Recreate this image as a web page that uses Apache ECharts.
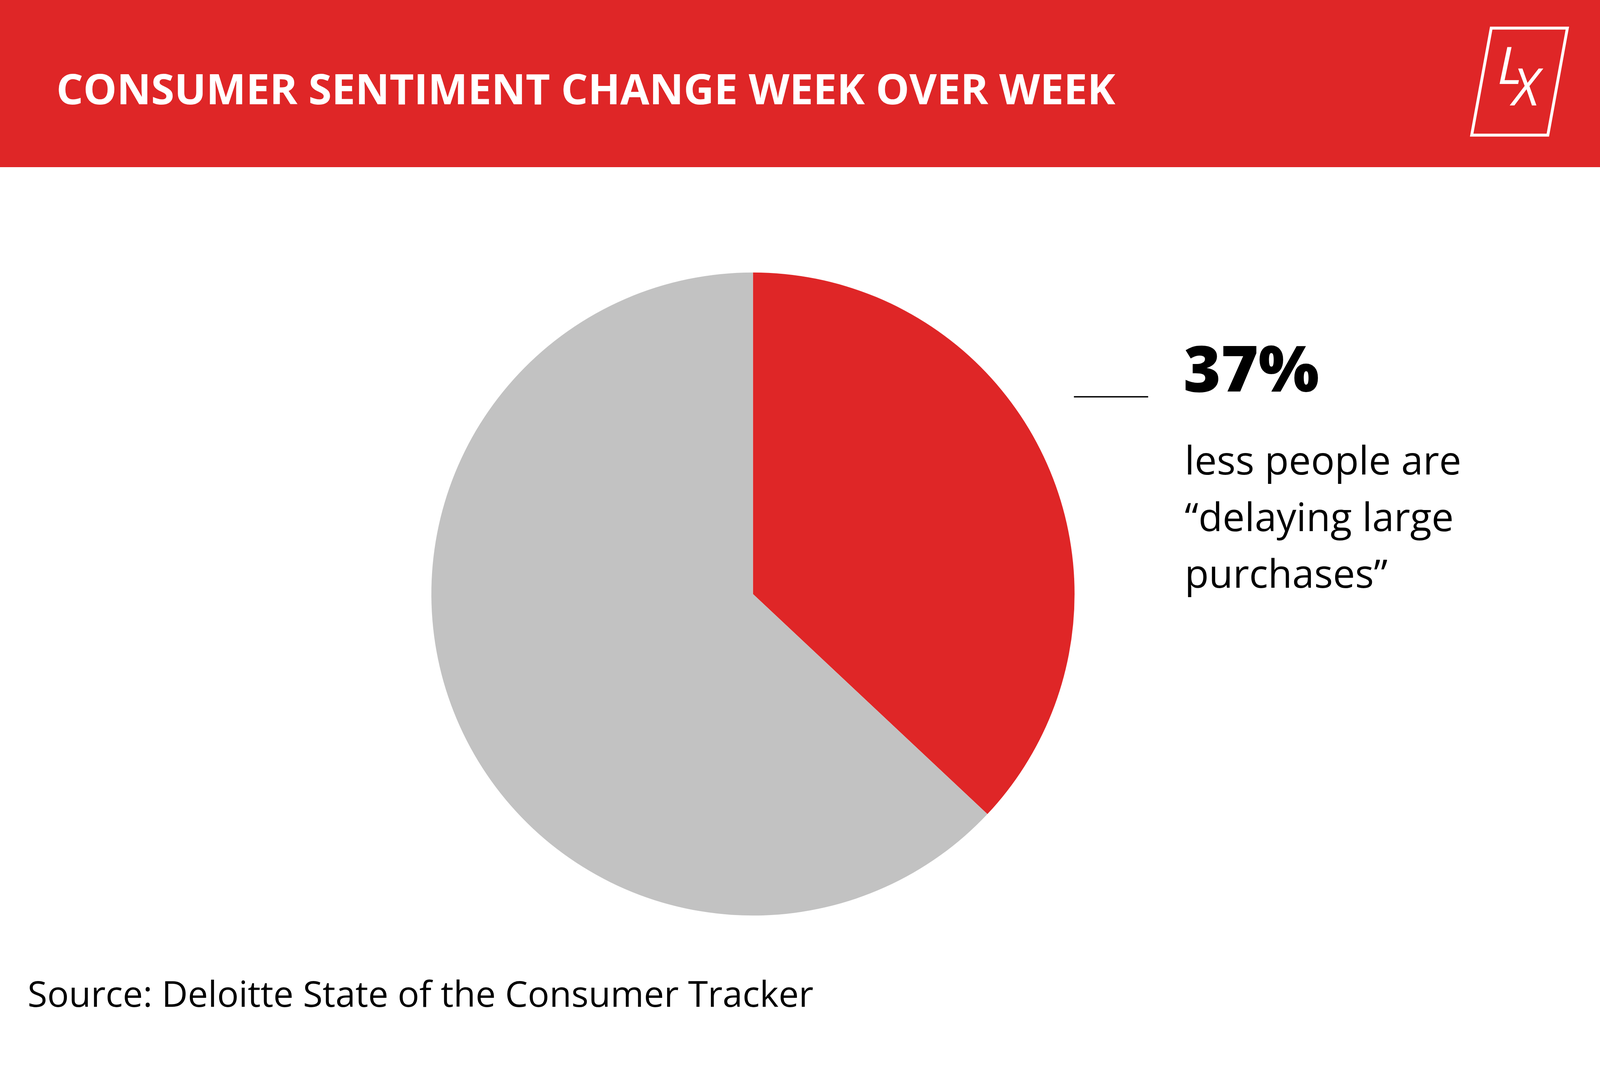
<!DOCTYPE html>
<html lang="en" style="height: 100%">
<head>
  <meta charset="UTF-8" />
  <title>Consumer sentiment change week over week</title>
  <script src="https://cdn.jsdelivr.net/npm/echarts@6/dist/echarts.min.js"></script>
</head>
<body style="height: 100%; margin: 0; background: #fff">
  <div id="container" style="width: 100%; height: 100%"></div>
  <script type="text/javascript">
    // data
    var sliceNames = ["Less people delaying large purchases", "Others"];
    var sliceValues = [37, 63];
    var titleText = "CONSUMER SENTIMENT CHANGE WEEK OVER WEEK";
    var captionLines = ["less people are", "\u201Cdelaying large", "purchases\u201D"];
    var sourceText = "Source: Deloitte State of the Consumer Tracker";

    var RED = "#df2627";
    var GREY = "#c2c2c2";
    var FONT = "'Open Sans', 'Noto Sans', sans-serif";

    var dom = document.getElementById("container");
    var myChart = echarts.init(dom, null, { renderer: "canvas" });

    // layout was measured on a 5000 x 2727 picture, scale it to whatever we get
    function build() {
      var W = myChart.getWidth(), H = myChart.getHeight();
      var sx = W / 5000, sy = H / 2727, s = Math.min(sx, sy);
      function X(v) { return v * sx; }
      function Y(v) { return v * sy; }
      function font(w, size, extra) { return (extra || "") + w + " " + Math.round(size * s) + "px " + FONT; }

      var pieData = sliceNames.map(function (n, i) {
        return { name: n, value: sliceValues[i] };
      });

      var captionEls = captionLines.map(function (t, i) {
        return {
          type: "text",
          style: {
            text: t, x: X(3702), y: Y(1186 + i * 145),
            font: font(400, 123), fill: "#000",
            textAlign: "left", textVerticalAlign: "middle"
          }
        };
      });

      var option = {
        animation: false,
        backgroundColor: "#fff",
        color: [RED, GREY],
        series: [
          {
            type: "pie",
            center: [X(2353), Y(1521)],
            radius: 1005 * s,
            startAngle: 90,
            clockwise: true,
            silent: true,
            label: { show: false },
            labelLine: { show: false },
            itemStyle: { borderWidth: 0 },
            data: pieData
          }
        ],
        graphic: [
          // header bar
          { type: "rect", shape: { x: 0, y: 0, width: W, height: Y(428) }, style: { fill: RED }, z: -1 },
          {
            type: "text",
            style: {
              text: titleText, x: X(176), y: Y(236),
              font: font(700, 132), fill: "#fff",
              textAlign: "left", textVerticalAlign: "middle"
            }
          },
          // logo
          {
            type: "polygon",
            shape: { points: [[X(4660), Y(72)], [X(4898), Y(72)], [X(4837), Y(346)], [X(4599), Y(346)]] },
            style: { fill: "none", stroke: "#fff", lineWidth: 9 * s }
          },
          {
            type: "text",
            style: { text: "L", x: X(4718), y: Y(178), font: font(400, 160, "italic "), fill: "#fff", textAlign: "center", textVerticalAlign: "middle" }
          },
          {
            type: "text",
            style: { text: "X", x: X(4768), y: Y(233), font: font(400, 160, "italic "), fill: "#fff", textAlign: "center", textVerticalAlign: "middle" }
          },
          // leader line
          { type: "line", shape: { x1: X(3356), y1: Y(1016), x2: X(3588), y2: Y(1016) }, style: { stroke: "#000", lineWidth: 4 * s } },
          {
            type: "text",
            style: {
              text: sliceValues[0] + "%", x: X(3698), y: Y(956),
              font: font(800, 200), fill: "#000",
              textAlign: "left", textVerticalAlign: "middle"
            }
          }
        ].concat(captionEls).concat([
          {
            type: "text",
            style: {
              text: sourceText, x: X(86), y: Y(2552),
              font: font(400, 112), fill: "#000",
              textAlign: "left", textVerticalAlign: "middle"
            }
          }
        ])
      };
      myChart.setOption(option, true);
    }

    build();
    window.addEventListener("resize", function () {
      myChart.resize();
      build();
    });
  </script>
</body>
</html>
